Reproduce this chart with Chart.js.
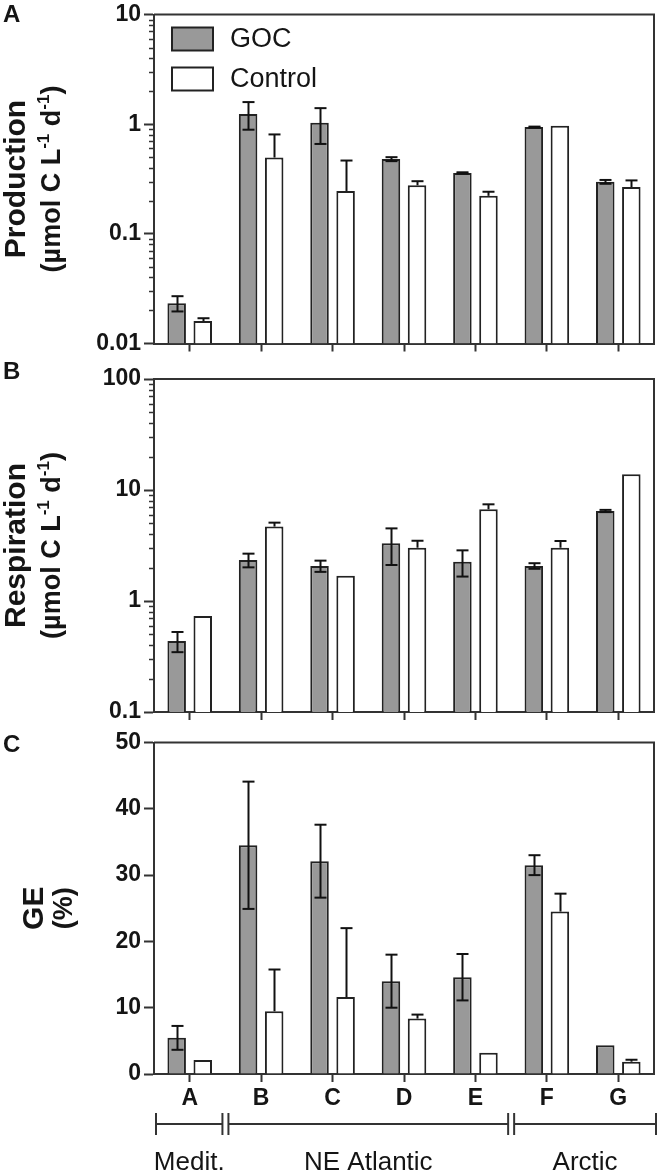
<!DOCTYPE html>
<html>
<head>
<meta charset="utf-8">
<script src="https://cdn.jsdelivr.net/npm/chart.js@4.4.1/dist/chart.umd.min.js"></script>
<style>
body{margin:0;background:#fff;}
#wrap{position:relative;width:661px;height:1173px;}
canvas{position:absolute;left:0;}
</style>
</head>
<body>
<div id="wrap">
<canvas id="cA" width="661" height="358" style="top:0px"></canvas>
<canvas id="cB" width="661" height="370" style="top:358px"></canvas>
<canvas id="cC" width="661" height="445" style="top:728px"></canvas>
</div>
<script>
// ---- data ----
var stations = ['A', 'B', 'C', 'D', 'E', 'F', 'G'];
var seriesNames = ['GOC', 'Control'];

var prodGOC    = [0.0233, 1.24, 1.03, 0.48, 0.359, 0.94, 0.298];
var prodGOCErr = [0.0037, 0.35, 0.37, 0.02, 0.005, 0.01, 0.012];
var prodCtl    = [0.016, 0.496, 0.246, 0.277, 0.222, 0.966, 0.267];
var prodCtlErr = [0.001, 0.31, 0.22, 0.025, 0.02, 0, 0.04];

var respGOC    = [0.436, 2.34, 2.07, 3.31, 2.26, 2.07, 6.47];
var respGOCErr = [0.09, 0.33, 0.24, 1.2, 0.6, 0.12, 0.15];
var respCtl    = [0.733, 4.68, 1.69, 3.02, 6.70, 3.02, 13.9];
var respCtlErr = [0, 0.4, 0, 0.47, 0.73, 0.45, 0];

var geGOC    = [5.45, 34.5, 32.1, 14.0, 14.6, 31.5, 4.35];
var geGOCErr = [1.8, 9.6, 5.5, 4.0, 3.5, 1.5, 0];
var geCtl    = [2.1, 9.46, 11.6, 8.36, 3.2, 24.5, 1.85];
var geCtlErr = [0, 6.3, 10.4, 0.6, 0, 2.7, 0.3];

var prodTicks = [0.01, 0.1, 1, 10];
var respTicks = [0.1, 1, 10, 100];
var geTicks = [0, 10, 20, 30, 40, 50];

var groupNames = ['Medit.', 'NE Atlantic', 'Arctic'];
var groupFirst = [0, 1, 5];
var groupLast  = [0, 4, 6];

// ---- look ----
var FONT = '"Liberation Sans", Arial, Helvetica, sans-serif';
var INK = '#151515';
var AXIS = '#333333';
var GREY = '#999999';

Chart.defaults.font.family = FONT;
Chart.defaults.color = INK;

function line(ctx, x1, y1, x2, y2) {
  ctx.beginPath(); ctx.moveTo(x1, y1); ctx.lineTo(x2, y2); ctx.stroke();
}

// frame, panel letter, rotated axis title, minor log ticks
var panelDeco = {
  id: 'panelDeco',
  afterDraw: function (chart) {
    var o = chart.options.plugins.panelDeco;
    var ctx = chart.ctx, a = chart.chartArea, ys = chart.scales.y;
    ctx.save();
    ctx.strokeStyle = AXIS;
    ctx.lineWidth = 2;
    ctx.beginPath();
    ctx.moveTo(a.left, a.top); ctx.lineTo(a.right, a.top); ctx.lineTo(a.right, a.bottom);
    ctx.stroke();

    if (ys.type === 'logarithmic') {
      ctx.lineWidth = 1.5;
      var e0 = Math.round(Math.log10(ys.min)), e1 = Math.round(Math.log10(ys.max));
      for (var e = e0; e < e1; e++) {
        for (var k = 2; k <= 9; k++) {
          var py = Math.round(ys.getPixelForValue(k * Math.pow(10, e))) + 0.5;
          line(ctx, a.left - 5, py, a.left, py);
        }
      }
    }

    ctx.fillStyle = INK;
    ctx.textBaseline = 'alphabetic';
    ctx.textAlign = 'left';
    ctx.font = 'bold 24px ' + FONT;
    ctx.fillText(o.letter, 3, o.letterY);

    var cy = (a.top + a.bottom) / 2;
    // first title line
    ctx.save();
    ctx.translate(o.t1x, cy);
    ctx.rotate(-Math.PI / 2);
    ctx.font = 'bold 30px ' + FONT;
    ctx.textAlign = 'center';
    ctx.fillText(o.title1, 0, 0);
    ctx.restore();
    // second title line, with superscripts
    ctx.save();
    ctx.translate(o.t2x, cy);
    ctx.rotate(-Math.PI / 2);
    var big = 'bold 27px ' + FONT, small = 'bold 17px ' + FONT;
    var w = 0;
    o.title2.forEach(function (s) { ctx.font = s[1] ? small : big; w += ctx.measureText(s[0]).width; });
    var x = -w / 2;
    o.title2.forEach(function (s) {
      ctx.font = s[1] ? small : big;
      ctx.fillText(s[0], x, s[1] ? -11 : 0);
      x += ctx.measureText(s[0]).width;
    });
    ctx.restore();
    ctx.restore();
  }
};

// error bars: GOC both ways, Control only upward (lower half hidden by the bar)
var errorBars = {
  id: 'errorBars',
  afterDatasetsDraw: function (chart) {
    var ctx = chart.ctx, ys = chart.scales.y;
    ctx.save();
    ctx.strokeStyle = '#111';
    ctx.lineWidth = 2;
    chart.data.datasets.forEach(function (ds, i) {
      var meta = chart.getDatasetMeta(i);
      meta.data.forEach(function (bar, j) {
        var e = ds.errors[j];
        if (!e) return;
        var v = ds.data[j];
        var x = Math.round(bar.x) + 0.5;
        var yt = ys.getPixelForValue(v + e);
        var yb = ds.errorDown ? ys.getPixelForValue(v - e) : bar.y;
        line(ctx, x, yt, x, yb);
        line(ctx, x - 6, yt, x + 6, yt);
        if (ds.errorDown) line(ctx, x - 6, yb, x + 6, yb);
      });
    });
    ctx.restore();
  }
};

// legend drawn inside panel A
var innerLegend = {
  id: 'innerLegend',
  afterDraw: function (chart) {
    if (!chart.options.plugins.innerLegend.show) return;
    var ctx = chart.ctx, a = chart.chartArea;
    ctx.save();
    chart.data.datasets.forEach(function (ds, i) {
      var bx = a.left + 18, by = a.top + 13 + i * 40;
      ctx.fillStyle = ds.backgroundColor;
      ctx.fillRect(bx, by, 41, 23);
      ctx.strokeStyle = '#222';
      ctx.lineWidth = 2;
      ctx.strokeRect(bx, by, 41, 23);
      ctx.fillStyle = INK;
      ctx.font = '27px ' + FONT;
      ctx.textBaseline = 'middle';
      ctx.textAlign = 'left';
      ctx.fillText(ds.label, bx + 58, by + 12.5);
    });
    ctx.restore();
  }
};

// region brackets under panel C
var regionBrackets = {
  id: 'regionBrackets',
  afterDraw: function (chart) {
    if (!chart.options.plugins.regionBrackets.show) return;
    var ctx = chart.ctx, a = chart.chartArea, xs = chart.scales.x;
    var step = xs.getPixelForValue(1) - xs.getPixelForValue(0);
    var yl = a.bottom + 50;
    ctx.save();
    ctx.strokeStyle = AXIS;
    ctx.lineWidth = 2;
    ctx.fillStyle = INK;
    ctx.font = '26px ' + FONT;
    ctx.textAlign = 'center';
    ctx.textBaseline = 'alphabetic';
    groupNames.forEach(function (name, g) {
      var x1 = g === 0 ? a.left + 2 : xs.getPixelForValue(groupFirst[g]) - step / 2 + 3;
      var x2 = g === groupNames.length - 1 ? a.right + 2 : xs.getPixelForValue(groupLast[g]) + step / 2 - 3;
      line(ctx, x1, yl, x2, yl);
      line(ctx, x1, yl - 11, x1, yl + 11);
      line(ctx, x2, yl - 11, x2, yl + 11);
      ctx.fillText(name, (x1 + x2) / 2, a.bottom + 96);
    });
    ctx.restore();
  }
};

function makeChart(id, o) {
  var datasets = [
    { label: seriesNames[0], data: o.goc, errors: o.gocErr, errorDown: true,
      backgroundColor: GREY, borderColor: '#222', borderWidth: 2, borderSkipped: 'bottom' },
    { label: seriesNames[1], data: o.ctl, errors: o.ctlErr, errorDown: false,
      backgroundColor: '#ffffff', borderColor: '#222', borderWidth: 2, borderSkipped: 'bottom' }
  ];
  var yScale = {
    type: o.log ? 'logarithmic' : 'linear',
    min: o.ticks[0],
    max: o.ticks[o.ticks.length - 1],
    afterBuildTicks: function (s) { s.ticks = o.ticks.map(function (v) { return { value: v }; }); },
    afterFit: function (s) { s.width = 154; },
    border: { display: true, color: AXIS, width: 2 },
    grid: { drawOnChartArea: false, drawTicks: true, tickLength: 10, tickWidth: 2, tickColor: AXIS },
    ticks: {
      padding: 3,
      color: INK,
      font: { size: 23, weight: 'bold', lineHeight: 1 },
      callback: function (v) { return String(v); }
    }
  };
  return new Chart(document.getElementById(id), {
    type: 'bar',
    data: { labels: stations, datasets: datasets },
    options: {
      responsive: false,
      animation: false,
      devicePixelRatio: 1,
      layout: { padding: { top: o.padTop, right: 7, left: 0, bottom: 0 } },
      datasets: { bar: { categoryPercentage: 0.73, barPercentage: 0.71 } },
      scales: {
        x: {
          afterFit: function (s) { s.height = o.xHeight; },
          border: { display: true, color: AXIS, width: 2 },
          grid: { offset: false, drawOnChartArea: false, drawTicks: true, tickLength: 8, tickWidth: 2, tickColor: AXIS },
          ticks: {
            padding: 5,
            color: INK,
            font: { size: 23, weight: 'bold', lineHeight: 1 },
            callback: function (v, i) { return o.showLabels ? stations[i] : ''; }
          }
        },
        y: yScale
      },
      plugins: {
        legend: { display: false },
        tooltip: { enabled: false },
        panelDeco: { letter: o.letter, letterY: o.letterY, t1x: o.t1x, t2x: o.t2x, title1: o.title1, title2: o.title2 },
        innerLegend: { show: !!o.legend },
        regionBrackets: { show: !!o.brackets }
      }
    },
    plugins: [panelDeco, errorBars, innerLegend, regionBrackets]
  });
}

var unitTitle = [['(\u00b5mol C L', 0], ['-1', 1], [' d', 0], ['-1', 1], [')', 0]];

makeChart('cA', {
  goc: prodGOC, gocErr: prodGOCErr, ctl: prodCtl, ctlErr: prodCtlErr,
  log: true, ticks: prodTicks, padTop: 12, xHeight: 11, showLabels: false,
  letter: 'A', letterY: 22, t1x: 25, t2x: 60, title1: 'Production', title2: unitTitle, legend: true
});
makeChart('cB', {
  goc: respGOC, gocErr: respGOCErr, ctl: respCtl, ctlErr: respCtlErr,
  log: true, ticks: respTicks, padTop: 21, xHeight: 16, showLabels: false,
  letter: 'B', letterY: 21, t1x: 25, t2x: 60, title1: 'Respiration', title2: unitTitle
});
makeChart('cC', {
  goc: geGOC, gocErr: geGOCErr, ctl: geCtl, ctlErr: geCtlErr,
  log: false, ticks: geTicks, padTop: 13, xHeight: 99, showLabels: true,
  letter: 'C', letterY: 24, t1x: 43, t2x: 72, title1: 'GE', title2: [['(%)', 0]], brackets: true
});
</script>
</body>
</html>
